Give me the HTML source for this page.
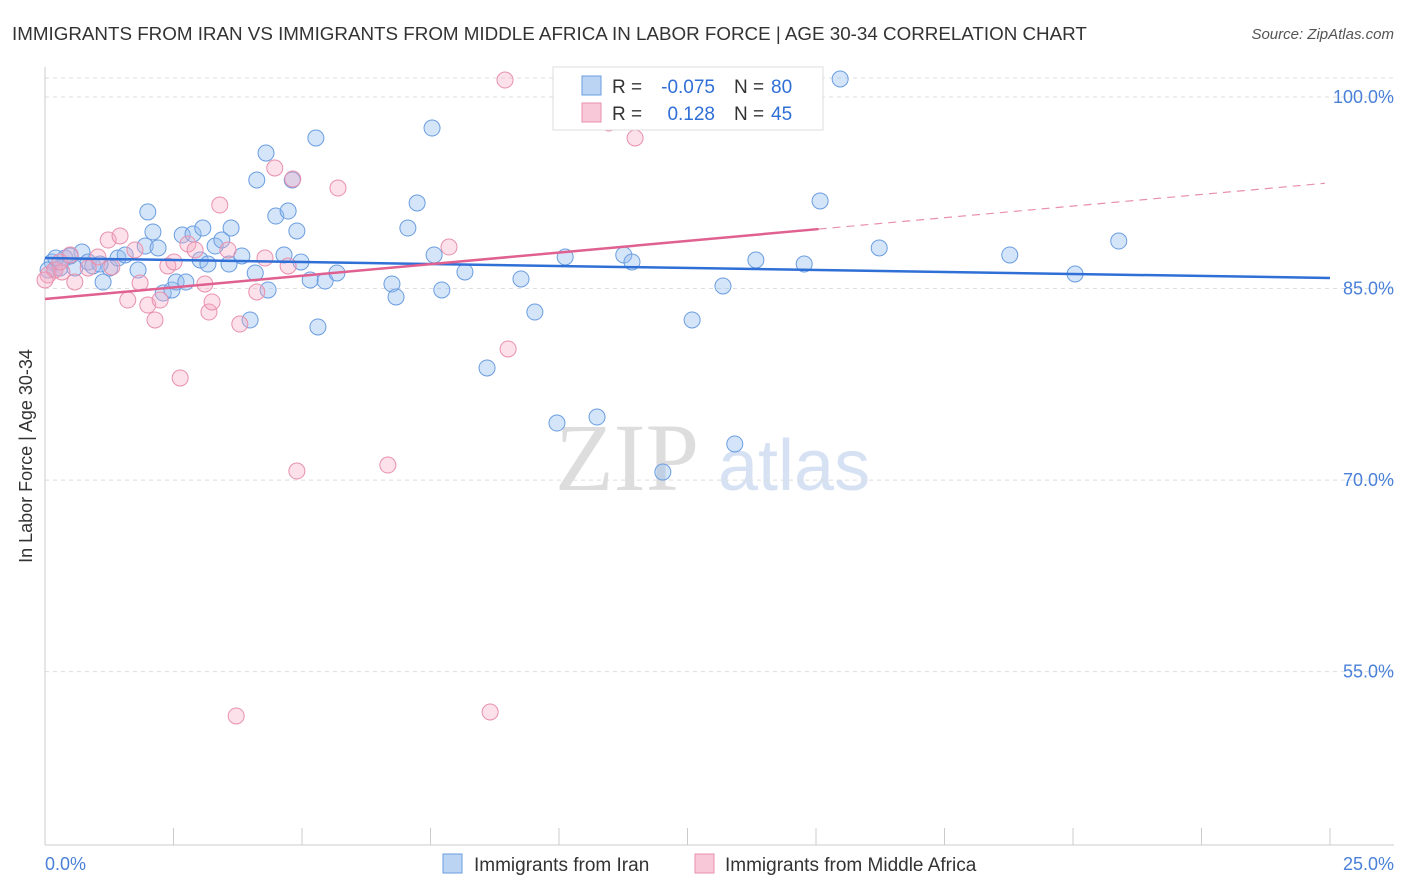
<!DOCTYPE html>
<html><head><meta charset="utf-8"><style>
body{margin:0;background:#fff;font-family:"Liberation Sans",sans-serif}
#c{position:relative;width:1406px;height:892px;overflow:hidden}
</style></head><body>
<div id="c">
<svg id="s" width="1406" height="892" xmlns="http://www.w3.org/2000/svg">
<text x="12" y="40" font-size="18.8" fill="#333">IMMIGRANTS FROM IRAN VS IMMIGRANTS FROM MIDDLE AFRICA IN LABOR FORCE | AGE 30-34 CORRELATION CHART</text>
<text x="1394" y="39" font-size="15" fill="#555" font-style="italic" text-anchor="end">Source: ZipAtlas.com</text>
<text x="32" y="456" font-size="18" fill="#333" text-anchor="middle" transform="rotate(-90 32 456)">In Labor Force | Age 30-34</text>
<text x="555" y="490" font-size="96" fill="#ddd" font-family="Liberation Serif,serif">ZIP</text>
<text x="718" y="490" font-size="72" fill="#d6e2f3">atlas</text>
<g id="grid"></g><g id="pts"></g><g id="lines"></g>
<g>
<rect x="553" y="67" width="270" height="63" fill="#fff" stroke="#ddd"/>
<rect x="582" y="76" width="19" height="19" fill="#bcd4f4" stroke="#6a9de0"/>
<rect x="582" y="103" width="19" height="19" fill="#f9c8d8" stroke="#e890ad"/>
<g font-size="19" fill="#333">
<text x="612" y="93">R =</text>
<text x="715" y="93" fill="#2f6fd6" text-anchor="end">-0.075</text>
<text x="734" y="93">N =</text>
<text x="771" y="93" fill="#2f6fd6">80</text>
<text x="612" y="120">R =</text>
<text x="715" y="120" fill="#2f6fd6" text-anchor="end">0.128</text>
<text x="734" y="120">N =</text>
<text x="771" y="120" fill="#2f6fd6">45</text>
</g>
</g>
<g>
<rect x="443" y="854" width="19" height="19" fill="#bcd4f4" stroke="#6a9de0"/>
<text x="474" y="871" font-size="19" fill="#333">Immigrants from Iran</text>
<rect x="695" y="854" width="19" height="19" fill="#f9c8d8" stroke="#e890ad"/>
<text x="725" y="871" font-size="19" fill="#333">Immigrants from Middle Africa</text>
</g>
<text x="45" y="870" font-size="18" fill="#4a80d8">0.0%</text>
<text x="1394" y="870" font-size="18" fill="#4a80d8" text-anchor="end">25.0%</text>
</svg>
</div>
<script>
const yTicks=[100,85,70,55];
const yTickLabels=["100.0%","85.0%","70.0%","55.0%"];
const xTicks=[0,2.5,5,7.5,10,12.5,15,17.5,20,22.5,25];
const iranX=[.14,.19,.29,.39,.58,.72,.84,.93,1.13,1.26,1.42,1.56,1.81,1.95,2.00,2.10,2.20,2.30,2.47,2.55,2.67,2.74,2.88,3.02,3.07,3.17,3.31,3.44,3.58,3.62,3.83,3.99,4.09,4.12,4.30,4.34,4.49,4.65,4.73,4.81,4.90,4.98,5.16,5.27,5.31,5.45,5.68,6.75,6.83,7.06,7.24,7.53,7.57,7.72,8.17,8.60,9.26,9.53,9.96,10.12,10.74,11.07,11.26,11.42,12.02,12.59,13.19,13.42,13.83,14.77,15.08,15.47,16.23,18.77,20.04,20.89,.06,.21,.49,1.07];
const iranY=[87.08,86.45,86.61,87.39,86.61,87.86,87.08,86.77,85.51,86.61,87.39,87.63,86.45,88.33,91.0,89.43,88.18,84.65,84.89,85.51,89.19,85.51,89.27,87.24,89.74,86.92,88.33,88.8,86.92,89.74,87.55,82.54,86.22,93.5,95.61,84.89,90.68,87.63,91.07,93.5,89.51,87.08,85.67,96.79,81.99,85.59,86.22,85.36,84.34,89.74,91.7,97.57,87.63,84.89,86.3,78.78,85.75,83.16,74.47,87.47,74.94,101.25,87.63,87.08,70.63,82.54,85.2,72.83,87.24,86.92,91.86,101.41,88.18,87.63,86.14,88.72,86.45,87.39,87.55,86.92];
const afrX=[.06,.19,.33,.49,.58,.84,1.03,1.23,1.30,1.46,1.61,1.75,1.85,2.00,2.14,2.24,2.39,2.51,2.63,2.78,2.92,3.11,3.19,3.25,3.40,3.56,3.72,3.79,4.12,4.28,4.47,4.73,4.82,4.90,5.70,6.67,7.86,8.66,8.95,9.01,10.97,11.48,14.55,0,.29];
const afrY=[86.06,86.45,86.3,87.63,85.51,86.61,87.47,88.8,86.69,89.12,84.1,88.02,85.43,83.71,82.54,84.1,86.77,87.08,78.0,88.49,88.02,85.36,83.16,83.95,91.54,88.02,51.53,82.22,84.73,87.39,94.44,86.77,93.58,70.71,92.87,71.18,88.25,51.84,101.33,80.27,97.96,96.79,101.33,85.67,87.08];
const iranTrend=[87.39,85.83];
const afrTrend=[84.18,0.364];
const NS="http://www.w3.org/2000/svg";
const X=v=>45+v*51.4, Y=v=>97+(100-v)*12.77;
function mk(t,a,p){const e=document.createElementNS(NS,t);for(const k in a)e.setAttribute(k,a[k]);p.appendChild(e);return e;}
const g=document.getElementById('grid');
mk('line',{x1:45,y1:78,x2:1394,y2:78,stroke:'#ddd','stroke-dasharray':'4,4'},g);
yTicks.forEach((t,i)=>{
 const l=mk('line',{x1:45,y1:Y(t),x2:1394,y2:Y(t),stroke:'#ddd','stroke-dasharray':'4,4'},g);
 
 
 const tx=mk('text',{x:1394,y:Y(t)+6,'font-size':18,fill:'#4a80d8','text-anchor':'end'},g);
 tx.textContent=yTickLabels[i];
 
 
});
mk('line',{x1:45,y1:67,x2:45,y2:845,stroke:'#ccc'},g);
mk('line',{x1:45,y1:845,x2:1394,y2:845,stroke:'#ccc'},g);
xTicks.forEach(t=>{
 const l=mk('line',{x1:X(t),y1:828,x2:X(t),y2:845,stroke:'#ccc'},g);
 
 
});
const P=document.getElementById('pts');
iranX.forEach((x,i)=>{
 const c=mk('circle',{cx:X(x),cy:Y(iranY[i]),r:8,fill:'rgba(150,190,240,0.4)',stroke:'#6a9de0','stroke-width':1},P);
 
 
});
afrX.forEach((x,i)=>{
 const c=mk('circle',{cx:X(x),cy:Y(afrY[i]),r:8,fill:'rgba(245,170,195,0.35)',stroke:'#e890ad','stroke-width':1},P);
 
 
});
const L=document.getElementById('lines');
const bl=mk('line',{x1:X(0),y1:Y(iranTrend[0]),x2:X(25),y2:Y(iranTrend[1]),stroke:'#2f6fd6','stroke-width':2.5},L);


const pf=x=>afrTrend[0]+afrTrend[1]*x;
const pl=mk('line',{x1:X(0),y1:Y(pf(0)),x2:X(15.05),y2:Y(pf(15.05)),stroke:'#e06090','stroke-width':2.5},L);


const pd=mk('line',{x1:X(15.05),y1:Y(pf(15.05)),x2:X(24.9),y2:Y(pf(24.9)),stroke:'#e890ad','stroke-width':1.2,'stroke-dasharray':'8,6'},L);


</script>
</body></html>
